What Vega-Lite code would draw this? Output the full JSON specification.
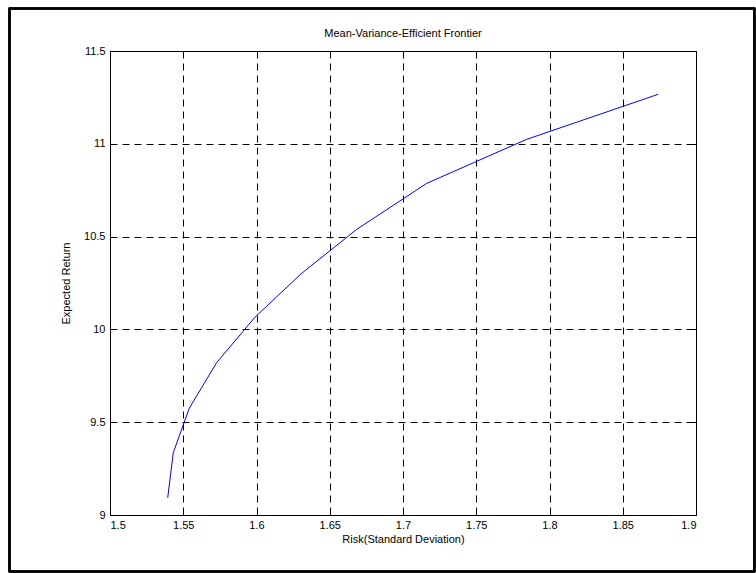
{
  "$schema": "https://vega.github.io/schema/vega-lite/v6.json",
  "width": 586,
  "height": 464,
  "autosize": "none",
  "padding": {"left": 110, "top": 51, "right": 60, "bottom": 58},
  "background": "white",
  "title": {"text": "Mean-Variance-Efficient Frontier", "font": "Liberation Sans", "fontSize": 11, "fontWeight": "normal", "color": "black", "anchor": "middle", "offset": 9, "dy": 40},
  "data": {"values": [
    {"risk": 1.5394, "ret": 9.093},
    {"risk": 1.5432, "ret": 9.336},
    {"risk": 1.5541, "ret": 9.575},
    {"risk": 1.5728, "ret": 9.821},
    {"risk": 1.5990, "ret": 10.066},
    {"risk": 1.6305, "ret": 10.300},
    {"risk": 1.6684, "ret": 10.539},
    {"risk": 1.7162, "ret": 10.787},
    {"risk": 1.7844, "ret": 11.024},
    {"risk": 1.8743, "ret": 11.267}
  ]},
  "layer": [
    {
      "mark": {"type": "rect", "fill": null, "stroke": "black", "strokeWidth": 1.5, "clip": false},
      "encoding": {
        "x": {"datum": 1.4314, "type": "quantitative", "scale": {"domain": [1.5, 1.9], "nice": false, "zero": false}, "axis": null},
        "x2": {"datum": 1.9399},
        "y": {"datum": 11.729, "type": "quantitative", "scale": {"domain": [9, 11.5], "nice": false, "zero": false}, "axis": null},
        "y2": {"datum": 8.6956}
      }
    },
    {
      "mark": {"type": "line", "color": "#0000ff", "strokeWidth": 1},
      "encoding": {
        "x": {"field": "risk", "type": "quantitative", "scale": {"domain": [1.5, 1.9], "nice": false, "zero": false},
          "axis": {"title": "Risk(Standard Deviation)", "values": [1.5, 1.55, 1.6, 1.65, 1.7, 1.75, 1.8, 1.85, 1.9], "format": "~g", "grid": true, "tickSize": -5, "labelPadding": 9, "titlePadding": 3}},
        "y": {"field": "ret", "type": "quantitative", "scale": {"domain": [9, 11.5], "nice": false, "zero": false},
          "axis": {"title": "Expected Return", "values": [9, 9.5, 10, 10.5, 11, 11.5], "format": "~g", "grid": true, "tickSize": -5, "labelPadding": 10, "titlePadding": 12}}
      }
    },
    {
      "mark": {"type": "line", "opacity": 0},
      "encoding": {
        "x": {"field": "risk", "type": "quantitative", "scale": {"domain": [1.5, 1.9], "nice": false, "zero": false},
          "axis": {"orient": "top", "title": null, "labels": false, "grid": false, "values": [1.5, 1.55, 1.6, 1.65, 1.7, 1.75, 1.8, 1.85, 1.9], "tickSize": -5}},
        "y": {"field": "ret", "type": "quantitative", "scale": {"domain": [9, 11.5], "nice": false, "zero": false},
          "axis": {"orient": "right", "title": null, "labels": false, "grid": false, "values": [9, 9.5, 10, 10.5, 11, 11.5], "tickSize": -5}}
      }
    }
  ],
  "resolve": {"axis": {"x": "independent", "y": "independent"}},
  "config": {
    "view": {"stroke": "black", "strokeWidth": 1},
    "axis": {
      "domain": false,
      "tickColor": "black",
      "tickWidth": 1,
      "gridColor": "black",
      "gridOpacity": 1,
      "gridWidth": 1,
      "gridDash": [7, 5],
      "labelFont": "Liberation Sans",
      "labelFontSize": 11,
      "labelColor": "black",
      "titleFont": "Liberation Sans",
      "titleFontSize": 11,
      "titleFontWeight": "normal",
      "titleColor": "black"
    }
  }
}
